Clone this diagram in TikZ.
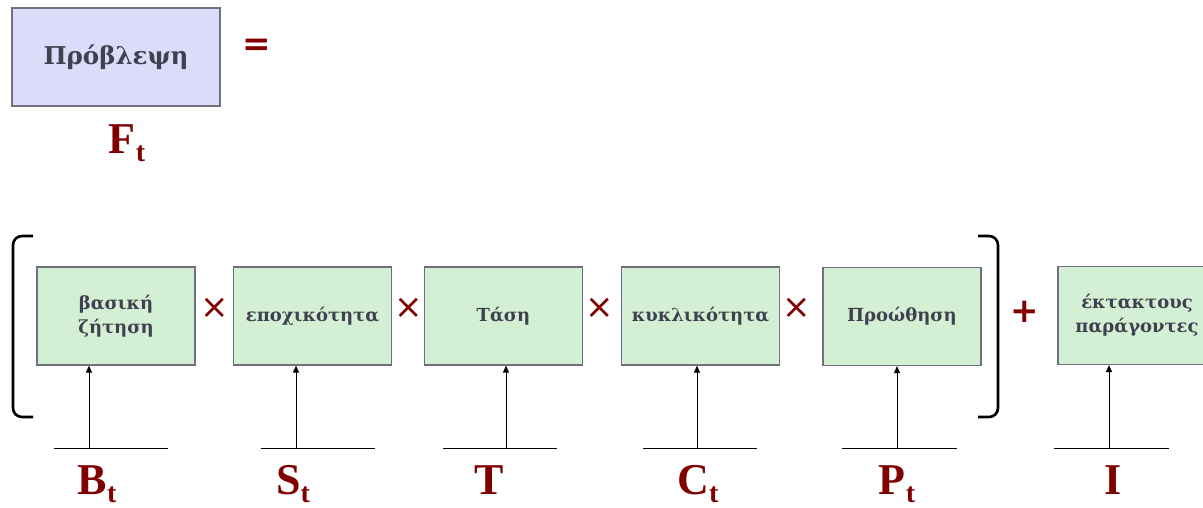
\documentclass[tikz,border=0pt]{standalone}
\usepackage{fontspec}
\setmainfont{Liberation Serif}
\newfontfamily\boxfont{DejaVu Serif}
\newfontfamily\opfont{DejaVu Sans}
\usetikzlibrary{arrows.meta}
\definecolor{dred}{HTML}{800000}
\definecolor{boxtext}{HTML}{404050}
\definecolor{boxedge}{HTML}{70707E}
\definecolor{lavender}{HTML}{DCDCFA}
\definecolor{mint}{HTML}{D4F0D4}
\newcommand{\subt}{\raisebox{-8pt}{\fontsize{28}{28}\selectfont t}}
\tikzset{
  factor/.style={draw=boxedge, fill=mint, line width=1.2pt, minimum width=158pt, minimum height=98pt,
    inner sep=0pt, align=center, text=boxtext, font=\boxfont\bfseries\fontsize{18}{24}\selectfont},
  symb/.style={text=dred, font=\fontsize{44}{44}\selectfont\bfseries, inner sep=0pt, anchor=base},
  op/.style={text=dred, font=\opfont\fontsize{34}{34}\selectfont, inner sep=0pt},
  bop/.style={text=dred, font=\opfont\bfseries\fontsize{34}{34}\selectfont, inner sep=0pt},
  feed/.style={line width=0.9pt, -{Triangle[length=7pt, width=6pt]}},
  base/.style={line width=0.9pt},
  brack/.style={line width=2.6pt, rounded corners=9pt}
}
\begin{document}
\begin{tikzpicture}[x=1pt, y=-1pt]
\useasboundingbox (0,0) rectangle (1203,507);
\clip (0,0) rectangle (1203,507);

% forecast
\node[draw=boxedge, fill=lavender, line width=1.2pt, minimum width=208pt, minimum height=98pt, inner sep=0pt,
  text=boxtext, font=\boxfont\bfseries\fontsize{24.5}{28}\selectfont] (fc) at (116,57) {Πρόβλεψη};
\node[bop] (eq) at (257,47) {=};
\node[symb] (F) at (127,153) {F\subt};

% factor boxes
\node[factor] (b1) at (116,316) {βασική\\ζήτηση};
\node[factor] (b2) at (312.5,316) {εποχικότητα};
\node[factor] (b3) at (503.5,316) {Τάση};
\node[factor] (b4) at (700.5,316) {κυκλικότητα};
\node[factor] (b5) at (902,316.5) {Προώθηση};
\node[factor] (b6) at (1137,315.5) {έκτακτους\\παράγοντες};

% operators
\node[op] (m1) at (215,308) {×};
\node[op] (m2) at (409,308) {×};
\node[op] (m3) at (600,308) {×};
\node[op] (m4) at (797,308) {×};
\node[bop] (pl) at (1025,312) {+};

% brackets
\coordinate (lt) at (33,236);
\coordinate (lb) at (33,417);
\coordinate (rt) at (978,236);
\coordinate (rb) at (978,417);
\draw[brack] (lt) -| (13,326) |- (lb);
\draw[brack] (rt) -| (998,326) |- (rb);

% input lines and arrows
\foreach \b/\ax/\la/\lb in {b1/89/54/168, b2/296/261/375, b3/506/443/557, b4/697/643/757, b5/897/842/957, b6/1109/1054/1169}{
  \coordinate (\b l) at (\la,448);
  \coordinate (\b r) at (\lb,448);
  \coordinate (\b a) at (\ax,448);
  \draw[base] (\b l) -- (\b r);
  \draw[feed] (\b a) -- (\b.south -| \b a);
}

% variable symbols
\node[symb] (B) at (97,494) {B\subt};
\node[symb] (S) at (293,494) {S\subt};
\node[symb] (T) at (489,494) {T};
\node[symb] (C) at (698,494) {C\subt};
\node[symb] (P) at (897,494) {P\subt};
\node[symb] (I) at (1113,494) {I};
\end{tikzpicture}
\end{document}
